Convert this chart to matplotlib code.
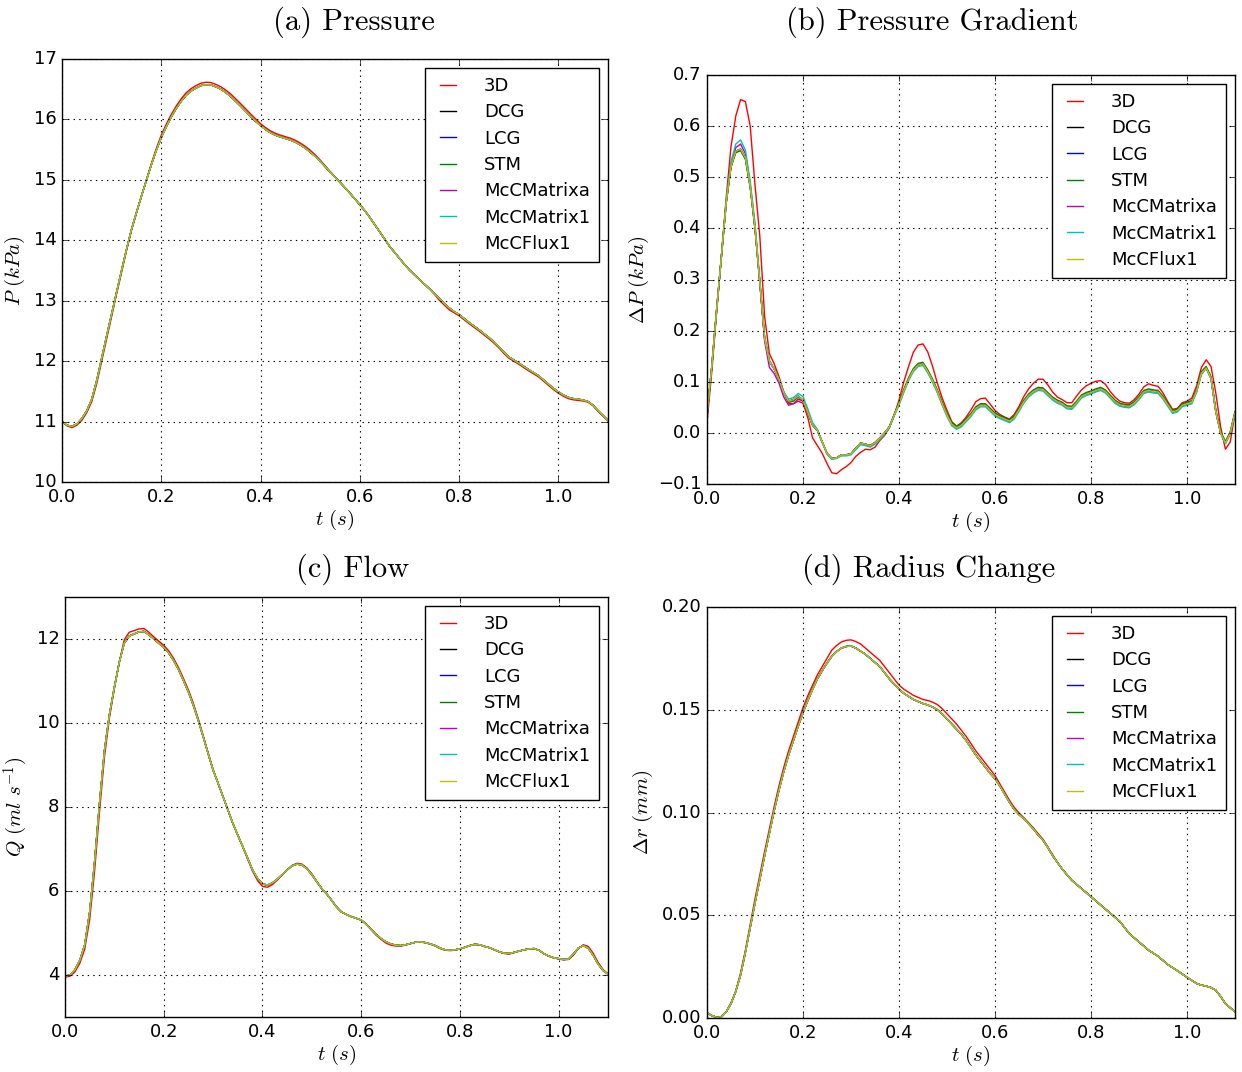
import numpy as np
import matplotlib
matplotlib.use('Agg')
import matplotlib.pyplot as plt

plt.style.use('classic')
plt.rcParams['mathtext.fontset'] = 'cm'
plt.rcParams['font.family'] = 'DejaVu Sans'

models = ['3D', 'DCG', 'LCG', 'STM', 'McCMatrixa', 'McCMatrix1', 'McCFlux1']
colors = ['r', 'k', 'b', 'g', 'm', 'c', 'y']

# sample times (s), every 0.01 s
t = np.linspace(0, 1.1, 111)

# (a) pressure, kPa
a_3d = [11.00, 10.93, 10.90, 10.94, 11.02, 11.15, 11.33, 11.63, 12.00, 12.37,
        12.74, 13.11, 13.47, 13.83, 14.16, 14.45, 14.73, 15.00, 15.27, 15.52,
        15.74, 15.92, 16.08, 16.22, 16.34, 16.44, 16.51, 16.56, 16.60, 16.615,
        16.61, 16.58, 16.54, 16.485, 16.42, 16.34, 16.26, 16.175, 16.09, 16.01,
        15.93, 15.865, 15.81, 15.77, 15.74, 15.715, 15.69, 15.655, 15.61, 15.555,
        15.49, 15.415, 15.33, 15.235, 15.14, 15.05, 14.96, 14.87, 14.78, 14.685,
        14.59, 14.49, 14.38, 14.26, 14.14, 14.02, 13.90, 13.80, 13.70, 13.60,
        13.51, 13.43, 13.35, 13.275, 13.20, 13.11, 13.01, 12.93, 12.85, 12.80,
        12.75, 12.685, 12.62, 12.56, 12.50, 12.435, 12.37, 12.30, 12.22, 12.13,
        12.05, 12.00, 11.95, 11.895, 11.84, 11.79, 11.74, 11.67, 11.60, 11.53,
        11.47, 11.42, 11.38, 11.36, 11.35, 11.34, 11.32, 11.26, 11.17, 11.09,
        11.01]
a_1d = [11.00, 10.94, 10.92, 10.96, 11.05, 11.18, 11.37, 11.68, 12.05, 12.42,
        12.78, 13.14, 13.50, 13.85, 14.18, 14.46, 14.73, 14.99, 15.25, 15.49,
        15.70, 15.88, 16.04, 16.18, 16.30, 16.40, 16.47, 16.52, 16.56, 16.575,
        16.57, 16.54, 16.50, 16.445, 16.38, 16.30, 16.22, 16.135, 16.05, 15.97,
        15.90, 15.835, 15.78, 15.74, 15.71, 15.685, 15.66, 15.625, 15.58, 15.525,
        15.46, 15.39, 15.31, 15.22, 15.13, 15.045, 14.96, 14.87, 14.78, 14.685,
        14.59, 14.49, 14.38, 14.26, 14.14, 14.02, 13.90, 13.80, 13.70, 13.60,
        13.51, 13.43, 13.35, 13.275, 13.20, 13.12, 13.04, 12.955, 12.88, 12.82,
        12.77, 12.705, 12.64, 12.58, 12.52, 12.455, 12.39, 12.32, 12.24, 12.15,
        12.07, 12.02, 11.97, 11.915, 11.86, 11.81, 11.76, 11.69, 11.62, 11.55,
        11.49, 11.44, 11.40, 11.38, 11.37, 11.355, 11.33, 11.27, 11.18, 11.10,
        11.02]

# (b) pressure gradient, kPa
b_3d = [0.020, 0.120, 0.235, 0.345, 0.460, 0.560, 0.620, 0.652, 0.648, 0.600,
        0.485, 0.385, 0.228, 0.155, 0.135, 0.110, 0.080, 0.058, 0.057, 0.062,
        0.058, 0.030, -0.010, -0.025, -0.040, -0.060, -0.078, -0.080, -0.072, -0.066,
        -0.058, -0.046, -0.038, -0.032, -0.033, -0.028, -0.015, -0.005, 0.010, 0.035,
        0.064, 0.100, 0.130, 0.158, 0.172, 0.174, 0.158, 0.130, 0.097, 0.068,
        0.044, 0.022, 0.013, 0.020, 0.031, 0.045, 0.061, 0.067, 0.068, 0.056,
        0.044, 0.036, 0.031, 0.027, 0.036, 0.052, 0.071, 0.086, 0.097, 0.105,
        0.105, 0.094, 0.080, 0.070, 0.065, 0.059, 0.059, 0.072, 0.084, 0.092,
        0.097, 0.101, 0.102, 0.095, 0.081, 0.070, 0.062, 0.059, 0.058, 0.065,
        0.076, 0.090, 0.096, 0.093, 0.091, 0.078, 0.061, 0.046, 0.048, 0.059,
        0.062, 0.068, 0.092, 0.128, 0.143, 0.130, 0.078, 0.012, -0.032, -0.018,
        0.038]
b_dcg = [0.035, 0.130, 0.240, 0.345, 0.450, 0.521, 0.551, 0.555, 0.538, 0.482,
         0.400, 0.295, 0.185, 0.140, 0.125, 0.105, 0.078, 0.062, 0.065, 0.072,
         0.064, 0.040, 0.015, 0.005, -0.018, -0.040, -0.050, -0.049, -0.043, -0.043,
         -0.041, -0.030, -0.020, -0.022, -0.025, -0.019, -0.010, 0.000, 0.012, 0.035,
         0.057, 0.082, 0.105, 0.123, 0.133, 0.135, 0.120, 0.102, 0.081, 0.057,
         0.035, 0.017, 0.010, 0.015, 0.025, 0.035, 0.048, 0.054, 0.054, 0.045,
         0.036, 0.031, 0.027, 0.023, 0.030, 0.045, 0.061, 0.073, 0.081, 0.086,
         0.085, 0.076, 0.067, 0.061, 0.057, 0.050, 0.049, 0.059, 0.071, 0.076,
         0.079, 0.083, 0.086, 0.081, 0.071, 0.061, 0.055, 0.053, 0.052, 0.058,
         0.068, 0.080, 0.083, 0.081, 0.080, 0.069, 0.055, 0.041, 0.044, 0.054,
         0.057, 0.060, 0.082, 0.117, 0.127, 0.107, 0.042, 0.000, -0.020, -0.001,
         0.039]
b_stm = [0.035, 0.130, 0.240, 0.345, 0.450, 0.520, 0.548, 0.552, 0.535, 0.480,
         0.400, 0.295, 0.185, 0.140, 0.125, 0.105, 0.078, 0.060, 0.062, 0.070,
         0.063, 0.040, 0.015, 0.005, -0.018, -0.040, -0.050, -0.049, -0.043, -0.043,
         -0.041, -0.030, -0.020, -0.022, -0.025, -0.019, -0.010, 0.000, 0.012, 0.035,
         0.060, 0.085, 0.108, 0.126, 0.136, 0.138, 0.123, 0.105, 0.084, 0.060,
         0.038, 0.020, 0.013, 0.018, 0.028, 0.038, 0.051, 0.057, 0.057, 0.048,
         0.039, 0.034, 0.030, 0.026, 0.033, 0.048, 0.064, 0.076, 0.084, 0.089,
         0.088, 0.079, 0.070, 0.064, 0.060, 0.053, 0.052, 0.062, 0.074, 0.079,
         0.082, 0.086, 0.089, 0.084, 0.074, 0.064, 0.058, 0.056, 0.055, 0.061,
         0.071, 0.083, 0.086, 0.084, 0.083, 0.072, 0.058, 0.044, 0.047, 0.057,
         0.060, 0.063, 0.085, 0.120, 0.130, 0.110, 0.045, 0.003, -0.017, 0.002,
         0.042]
b_mcca = [0.035, 0.130, 0.240, 0.345, 0.452, 0.525, 0.558, 0.565, 0.546, 0.487,
          0.405, 0.295, 0.180, 0.128, 0.116, 0.097, 0.070, 0.054, 0.057, 0.066,
          0.062, 0.040, 0.015, 0.005, -0.018, -0.040, -0.050, -0.049, -0.043, -0.043,
          -0.041, -0.030, -0.020, -0.022, -0.025, -0.019, -0.010, 0.000, 0.012, 0.035,
          0.057, 0.082, 0.105, 0.123, 0.133, 0.135, 0.120, 0.102, 0.081, 0.057,
          0.035, 0.017, 0.010, 0.015, 0.025, 0.035, 0.048, 0.054, 0.054, 0.045,
          0.036, 0.031, 0.027, 0.023, 0.030, 0.045, 0.061, 0.073, 0.081, 0.086,
          0.085, 0.076, 0.067, 0.061, 0.057, 0.050, 0.049, 0.059, 0.071, 0.076,
          0.079, 0.083, 0.086, 0.081, 0.071, 0.061, 0.055, 0.053, 0.052, 0.058,
          0.068, 0.080, 0.083, 0.081, 0.080, 0.069, 0.055, 0.041, 0.044, 0.054,
          0.057, 0.060, 0.082, 0.117, 0.127, 0.107, 0.042, 0.000, -0.020, -0.001,
          0.039]
b_mcc1 = [0.035, 0.130, 0.240, 0.345, 0.455, 0.530, 0.565, 0.573, 0.553, 0.492,
          0.410, 0.300, 0.190, 0.142, 0.125, 0.104, 0.080, 0.066, 0.069, 0.077,
          0.071, 0.047, 0.020, 0.007, -0.018, -0.042, -0.052, -0.050, -0.045, -0.045,
          -0.043, -0.033, -0.023, -0.025, -0.028, -0.022, -0.013, -0.003, 0.010, 0.033,
          0.054, 0.079, 0.102, 0.120, 0.130, 0.132, 0.117, 0.099, 0.078, 0.054,
          0.032, 0.014, 0.007, 0.012, 0.022, 0.032, 0.045, 0.051, 0.051, 0.042,
          0.033, 0.028, 0.024, 0.020, 0.027, 0.042, 0.058, 0.070, 0.078, 0.083,
          0.082, 0.073, 0.064, 0.058, 0.054, 0.047, 0.046, 0.056, 0.068, 0.073,
          0.076, 0.080, 0.083, 0.078, 0.068, 0.058, 0.052, 0.050, 0.049, 0.055,
          0.065, 0.077, 0.080, 0.078, 0.077, 0.066, 0.052, 0.038, 0.041, 0.051,
          0.054, 0.057, 0.079, 0.114, 0.126, 0.106, 0.041, -0.001, -0.021, -0.002,
          0.038]

# (c) flow, ml/s
c_3d = [3.95, 3.97, 4.07, 4.28, 4.62, 5.32, 6.48, 7.90, 9.20, 10.12,
        10.82, 11.45, 11.98, 12.16, 12.20, 12.24, 12.25, 12.16, 12.05, 11.95,
        11.85, 11.72, 11.54, 11.32, 11.06, 10.79, 10.47, 10.10, 9.70, 9.29,
        8.89, 8.57, 8.25, 7.93, 7.61, 7.33, 7.05, 6.76, 6.47, 6.25,
        6.11, 6.09, 6.15, 6.26, 6.38, 6.50, 6.61, 6.66, 6.64, 6.55,
        6.41, 6.23, 6.06, 5.93, 5.78, 5.62, 5.50, 5.44, 5.39, 5.35,
        5.31, 5.21, 5.08, 4.95, 4.85, 4.76, 4.71, 4.69, 4.69, 4.71,
        4.75, 4.78, 4.79, 4.77, 4.74, 4.69, 4.63, 4.59, 4.58, 4.59,
        4.62, 4.66, 4.70, 4.73, 4.72, 4.68, 4.65, 4.60, 4.55, 4.51,
        4.50, 4.53, 4.57, 4.60, 4.62, 4.63, 4.59, 4.51, 4.45, 4.41,
        4.38, 4.36, 4.37, 4.47, 4.63, 4.72, 4.68, 4.52, 4.30, 4.13,
        4.02]
c_1d = [3.97, 4.00, 4.12, 4.35, 4.72, 5.50, 6.70, 8.10, 9.35, 10.20,
        10.85, 11.45, 11.90, 12.07, 12.12, 12.17, 12.18, 12.10, 12.00, 11.90,
        11.80, 11.67, 11.49, 11.27, 11.01, 10.74, 10.42, 10.06, 9.67, 9.27,
        8.88, 8.57, 8.25, 7.93, 7.61, 7.33, 7.06, 6.78, 6.50, 6.30,
        6.17, 6.14, 6.19, 6.28, 6.39, 6.50, 6.60, 6.64, 6.62, 6.53,
        6.39, 6.22, 6.06, 5.93, 5.78, 5.62, 5.50, 5.44, 5.39, 5.35,
        5.31, 5.21, 5.09, 4.97, 4.87, 4.79, 4.74, 4.71, 4.70, 4.72,
        4.75, 4.78, 4.79, 4.77, 4.74, 4.70, 4.64, 4.60, 4.59, 4.60,
        4.62, 4.66, 4.70, 4.73, 4.72, 4.68, 4.65, 4.60, 4.55, 4.52,
        4.51, 4.54, 4.57, 4.60, 4.62, 4.63, 4.59, 4.51, 4.45, 4.41,
        4.39, 4.37, 4.38, 4.50, 4.64, 4.70, 4.64, 4.47, 4.26, 4.11,
        4.02]

# (d) radius change, mm
d_3d = [0.0025, 0.0012, 0.0003, 0.0006, 0.003, 0.0075, 0.013, 0.022, 0.033, 0.0455,
        0.058, 0.0695, 0.081, 0.092, 0.103, 0.113, 0.122, 0.130, 0.137, 0.144,
        0.151, 0.1568, 0.162, 0.167, 0.171, 0.175, 0.179, 0.1813, 0.183, 0.1838,
        0.184, 0.1832, 0.182, 0.180, 0.178, 0.176, 0.174, 0.171, 0.168, 0.165,
        0.162, 0.160, 0.1585, 0.157, 0.156, 0.155, 0.1545, 0.1537, 0.1525, 0.1505,
        0.148, 0.1455, 0.143, 0.140, 0.137, 0.1335, 0.130, 0.127, 0.124, 0.121,
        0.118, 0.114, 0.110, 0.106, 0.1025, 0.0998, 0.0975, 0.095, 0.0925, 0.0897,
        0.087, 0.0833, 0.0795, 0.0757, 0.0725, 0.0697, 0.067, 0.065, 0.063, 0.061,
        0.059, 0.057, 0.055, 0.053, 0.051, 0.049, 0.047, 0.044, 0.041, 0.039,
        0.037, 0.035, 0.033, 0.0315, 0.030, 0.028, 0.026, 0.0245, 0.023, 0.0214,
        0.0198, 0.0183, 0.0168, 0.016, 0.0155, 0.0148, 0.0135, 0.0105, 0.007, 0.005,
        0.003]
d_1d = [0.0025, 0.0012, 0.0003, 0.0005, 0.003, 0.007, 0.013, 0.021, 0.032, 0.044,
        0.056, 0.0675, 0.079, 0.090, 0.101, 0.111, 0.120, 0.128, 0.135, 0.142,
        0.1485, 0.1545, 0.160, 0.165, 0.169, 0.1727, 0.176, 0.1783, 0.180, 0.1808,
        0.181, 0.180, 0.1785, 0.177, 0.175, 0.173, 0.171, 0.168, 0.165, 0.1625,
        0.160, 0.158, 0.1565, 0.155, 0.154, 0.153, 0.1523, 0.1513, 0.150, 0.148,
        0.1455, 0.143, 0.1405, 0.138, 0.135, 0.1315, 0.128, 0.125, 0.122, 0.119,
        0.1165, 0.113, 0.109, 0.105, 0.1015, 0.099, 0.097, 0.0945, 0.092, 0.089,
        0.0865, 0.083, 0.079, 0.0757, 0.0725, 0.0697, 0.067, 0.065, 0.063, 0.061,
        0.059, 0.057, 0.055, 0.053, 0.051, 0.049, 0.047, 0.044, 0.041, 0.039,
        0.037, 0.035, 0.033, 0.0315, 0.030, 0.028, 0.026, 0.0245, 0.023, 0.0214,
        0.0198, 0.0183, 0.0168, 0.016, 0.0155, 0.0148, 0.0135, 0.0105, 0.007, 0.005,
        0.003]

W, H = 1242, 1072
fig = plt.figure(figsize=(W / 100.0, H / 100.0), dpi=100, facecolor='white')


def px_axes(left, top, right, bottom):
    return fig.add_axes([left / W, 1 - bottom / H, (right - left) / W, (bottom - top) / H])


panels = [
    dict(box=(62, 59, 608, 482), title='(a) Pressure', tpos=(354, 22),
         series=[a_3d, a_1d, a_1d, a_1d, a_1d, a_1d, a_1d],
         ylim=(10, 17), ylabel=r'$P\ (kPa)$'),
    dict(box=(707, 75, 1235, 484), title='(b) Pressure Gradient', tpos=(932, 22),
         series=[b_3d, b_dcg, b_dcg, b_stm, b_mcca, b_mcc1, b_dcg],
         ylim=(-0.1, 0.7), ylabel=r'$\Delta P\ (kPa)$'),
    dict(box=(65, 597, 608, 1017), title='(c) Flow', tpos=(353, 569),
         series=[c_3d, c_1d, c_1d, c_1d, c_1d, c_1d, c_1d],
         ylim=(3, 13), ylabel=r'$Q\ (ml\ s^{-1})$'),
    dict(box=(707, 607, 1235, 1018), title='(d) Radius Change', tpos=(929, 569),
         series=[d_3d, d_1d, d_1d, d_1d, d_1d, d_1d, d_1d],
         ylim=(0, 0.2), ylabel=r'$\Delta r\ (mm)$'),
]

for p in panels:
    ax = px_axes(*p['box'])
    for name, col, vals in zip(models, colors, p['series']):
        ax.plot(t, vals, color=col, lw=1.0, label=name)
    ax.set_xlim(0, 1.1)
    ax.set_ylim(*p['ylim'])
    ax.set_xticks([0.0, 0.2, 0.4, 0.6, 0.8, 1.0])
    ax.grid(True, color='k', linestyle=':', linewidth=0.8)
    ax.tick_params(labelsize=13, direction='in', top=True, right=True)
    ax.set_xlabel(r'$t\ (s)$', fontsize=15, labelpad=2)
    ax.set_ylabel(p['ylabel'], fontsize=15)
    leg = ax.legend(loc='upper right', fontsize=13, handlelength=1.5,
                    handletextpad=1.25, borderpad=0.5, labelspacing=0.46,
                    fancybox=False, frameon=True)
    leg.get_frame().set_edgecolor('k')
    fig.text(p['tpos'][0] / W, 1 - p['tpos'][1] / H, p['title'],
             fontfamily='cmr10', fontsize=22, ha='center', va='center')

fig.savefig('out.png', dpi=100, facecolor='white')
